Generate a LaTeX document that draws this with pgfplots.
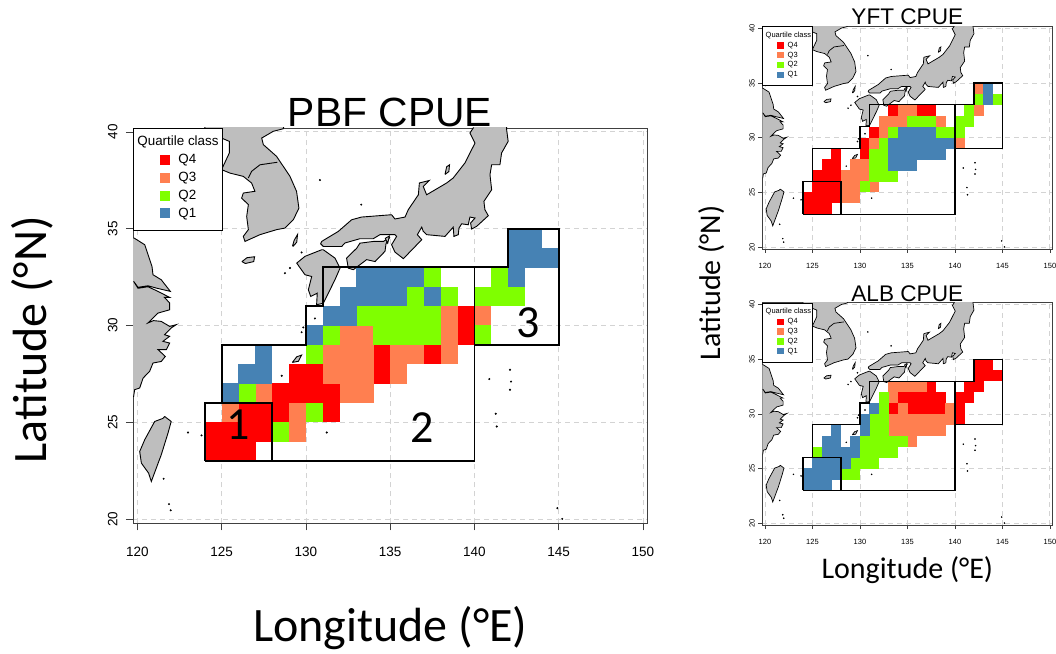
\documentclass[border=0pt]{standalone}
\usepackage{pgfplots}
\usepackage{pgfplotstable}
\usepackage{fontspec}
\pgfplotsset{compat=1.18}
\setmainfont{Liberation Sans}
\newfontfamily\calfont{Carlito}
\definecolor{qfour}{HTML}{FF0000}
\definecolor{qthree}{HTML}{FF7F50}
\definecolor{qtwo}{HTML}{7FFF00}
\definecolor{qone}{HTML}{4682B4}
\definecolor{landc}{HTML}{BEBEBE}
\definecolor{gridc}{HTML}{D3D3D3}
\pgfdeclareplotmark{cellM}{\pgfpathrectanglecorners{\pgfqpoint{-8.55pt}{-9.8pt}}{\pgfqpoint{8.55pt}{9.8pt}}\pgfusepathqfill}
\pgfdeclareplotmark{cellS}{\pgfpathrectanglecorners{\pgfqpoint{-4.85pt}{-5.55pt}}{\pgfqpoint{4.85pt}{5.55pt}}\pgfusepathqfill}

\pgfplotstableread{
x y
118.0 34.52
119.79 34.52
120.43 34.17
120.86 33.05
120.92 32.62
121.41 32.36
121.95 31.76
121.12 31.93
120.62 32.05
120.03 31.97
119.77 32.28
120.03 31.92
120.62 32.0
121.12 31.8
121.91 31.45
121.6 31.45
121.91 31.16
121.91 30.81
121.22 30.64
120.82 30.30
120.62 30.13
120.95 30.25
121.41 30.21
121.91 29.95
122.3 30.04
122.0 29.87
121.61 29.52
121.91 29.44
121.51 29.18
121.91 29.09
121.71 28.75
121.22 28.75
121.65 28.40
121.41 28.14
120.92 28.06
120.72 27.63
120.33 27.28
120.13 26.77
119.83 26.68
119.77 26.33
118.0 26.33
118.0 34.52
}\china
\pgfplotstableread{
x y
121.61 25.30
122.0 25.04
121.81 24.44
121.41 23.32
120.82 21.94
120.66 22.37
120.23 22.89
120.13 23.49
120.43 24.1
121.02 25.04
121.51 25.2
121.61 25.30
}\taiwan
\pgfplotstableread{
x y
124.0 41.0
128.9 41.0
128.65 40.16
128.06 40.03
127.37 39.68
127.47 39.34
128.26 38.73
129.05 37.70
129.44 36.93
129.58 36.06
129.25 35.46
128.75 35.03
128.26 34.95
127.27 34.69
126.38 34.34
126.28 34.60
126.58 34.95
126.48 35.63
126.58 36.24
126.18 36.58
126.28 36.84
126.97 36.93
126.77 37.36
126.28 37.70
125.49 37.87
124.99 38.05
125.45 38.91
125.45 39.51
124.99 39.68
124.0 39.9
124.0 41.0
}\korea
\pgfplotstableread{
x y
128.3 38.43
127.27 38.3
126.77 37.96
126.58 37.62
}\dmz
\pgfplotstableread{
x y
130.93 34.34
131.92 34.86
132.71 35.46
133.30 35.60
135.08 35.72
135.28 35.50
135.88 35.60
136.07 35.98
136.67 36.75
136.73 37.36
137.32 37.49
136.96 37.18
137.16 36.75
138.35 37.36
138.74 37.62
139.43 38.39
140.03 39.42
139.73 39.94
139.93 40.20
139.93 41.00
141.91 41.00
141.91 40.11
142.00 39.51
141.61 38.91
141.51 38.30
141.02 38.30
140.92 37.79
141.02 37.01
140.56 36.41
140.62 35.98
140.82 35.67
140.13 35.12
139.83 34.98
139.77 35.29
140.03 35.55
139.73 35.60
139.63 35.20
139.24 35.25
139.08 35.03
139.04 34.69
138.78 34.60
138.74 35.08
138.25 34.60
137.16 34.69
136.96 34.86
136.87 35.08
136.61 34.69
136.87 34.43
135.78 33.45
135.28 33.79
135.08 34.17
135.38 34.60
135.28 34.69
134.39 34.69
133.99 34.48
133.20 34.48
132.31 34.26
132.12 34.08
131.03 34.08
130.87 34.22
130.93 34.34
}\honshu
\pgfplotstableread{
x y
134.98 34.57
134.75 34.22
134.69 33.83
134.10 33.30
133.60 33.40
132.81 32.88
132.51 32.96
132.41 33.48
133.01 33.99
133.20 34.25
134.00 34.34
134.60 34.34
134.98 34.57
}\shikoku
\pgfplotstableread{
x y
131.03 33.91
131.72 33.48
132.02 32.96
131.72 32.36
131.03 31.15
130.63 31.07
130.67 31.67
130.28 31.50
130.14 31.84
130.34 32.53
129.94 32.62
129.45 33.22
129.94 33.57
130.93 33.91
131.03 33.91
}\kyushu
\pgfplotstableread{
x y
126.2 33.3
126.5 33.5
126.95 33.55
126.9 33.3
126.4 33.2
126.2 33.3
}\jeju
\pgfplotstableread{
x y
129.2 34.1
129.3 34.4
129.5 34.7
129.45 34.3
129.25 34.1
129.2 34.1
}\tsushima
\pgfplotstableread{
x y
138.25 37.8
138.35 38.2
138.52 38.3
138.48 37.95
138.25 37.8
}\sado
\pgfplotstableread{
x y
129.19 28.09
129.45 28.38
129.74 28.47
129.55 28.15
129.19 28.09
}\amami
\pgfplotstableread{
x y
134.7 34.5
134.95 34.62
134.85 34.25
134.7 34.5
}\awaji
\pgfplotstableread{
x y
123.0 24.47
123.8 24.32
121.55 22.08
121.87 20.77
121.97 20.45
142.11 27.71
142.17 27.1
142.11 26.68
140.88 27.23
141.26 25.44
141.32 24.78
144.92 20.56
145.21 20.01
128.56 27.4
131.23 24.47
130.53 30.36
129.84 29.9
129.74 29.65
130.83 37.51
133.28 36.24
129.74 33.77
128.75 32.7
129.05 32.97
}\islands

\pgfplotsset{
  land/.style={fill=landc,draw=black,line width=#1,forget plot},
  sqM/.style={legend image code/.code={\path[draw=none,fill=none] (-27pt,-5pt) rectangle (0pt,5pt);\fill[##1,draw=none] (0pt,-5pt) rectangle (10pt,5pt);}},
  sqS/.style={legend image code/.code={\path[draw=none,fill=none] (-14.7pt,-3.15pt) rectangle (0pt,3.15pt);\fill[##1,draw=none] (0pt,-3.15pt) rectangle (6.3pt,3.15pt);}},
  panel/.style={
    scale only axis,
    clip=true,
    clip mode=individual,
    axis line style={draw=black!75,line width=0.9pt},
    xtick={120,125,...,150},
    ytick={20,25,...,40},
    grid=major,
    grid style={gridc,dashed,line width=0.9pt,dash pattern=on 5pt off 4pt},
    tick style={draw=black!75,line width=0.7pt},
    tick align=outside,
    xtick pos=bottom,
    ytick pos=left,
    /pgf/number format/assume math mode=true,
    /pgf/number format/1000 sep={},
    yticklabel style={rotate=90,anchor=south},
    legend cell align=left,
  },
}
\newcommand{\landlayer}[1]{%
  \addplot[land=#1] table {\china};
  \addplot[land=#1] table {\taiwan};
  \addplot[land=#1] table {\korea};
  \addplot[forget plot,draw=black,line width=#1] table {\dmz};
  \addplot[land=#1] table {\honshu};
  \addplot[land=#1] table {\shikoku};
  \addplot[land=#1] table {\kyushu};
  \addplot[land=#1] table {\jeju};
  \addplot[land=#1] table {\tsushima};
  \addplot[land=#1] table {\sado};
  \addplot[land=#1] table {\amami};
  \addplot[land=#1] table {\awaji};
}
\newcommand{\regions}[1]{%
  \addplot[forget plot,draw=black,line width=#1] coordinates {(124,23) (128,23) (128,26) (124,26) (124,23)};
  \addplot[forget plot,draw=black,line width=#1] coordinates {(125,26) (125,29) (130,29) (130,31) (131,31) (131,33) (140,33) (140,23) (128,23)};
  \addplot[forget plot,draw=black,line width=#1] coordinates {(140,33) (142,33) (142,35) (145,35) (145,29) (140,29)};
}

\begin{document}
\begin{tikzpicture}[x=1pt,y=1pt]
\useasboundingbox (0,0) rectangle (1056,653);

% ---------- PBF ----------
\begin{axis}[panel,
  at={(133pt,129.7pt)},anchor=south west,
  width=514.5pt,height=395.3pt,
  xmin=119.733,xmax=150.27,ymin=19.78,ymax=40.2,
  major tick length=7pt,
  tick label style={font=\fontsize{13.5}{14}\selectfont},
  xticklabel style={yshift=-13pt},
  yticklabel style={yshift=5pt},
  title={PBF CPUE},
  title style={at={(axis description cs:0.4995,1.0405)},anchor=center,yshift=-6pt,font=\fontsize{40.8}{42}\selectfont},
  xlabel={\calfont Longitude (°E)},
  ylabel={\calfont Latitude (°N)},
  xlabel style={at={(axis description cs:0.5,-0.265)},anchor=center,font=\fontsize{48}{50}\selectfont},
  ylabel style={at={(axis description cs:-0.196,0.464)},anchor=center,font=\fontsize{48}{50}\selectfont},
  legend style={at={(axis description cs:0,1)},anchor=north west,draw=black,line width=0.8pt,fill=white,inner sep=0pt,
    nodes={inner sep=0pt},font=\fontsize{13.4}{14}\selectfont,/tikz/row sep=7pt,
    /tikz/every odd column/.append style={column sep=8pt}},
]
\landlayer{0.9pt}
\addplot[only marks,mark=*,mark size=0.8pt,black,forget plot] table {\islands};
\addlegendimage{empty legend}
\addlegendentry{\makebox[44pt][l]{\hspace*{-41pt}\rule[-3.4pt]{0pt}{21pt}Quartile class}}
\addplot[only marks,mark=cellM,color=qfour,sqM] coordinates {
(139.5,30.5) (139.5,29.5) (134.5,28.5) (137.5,28.5) (129.5,27.5) (130.5,27.5) (134.5,27.5)
(128.5,26.5) (129.5,26.5) (130.5,26.5) (131.5,26.5) (126.5,25.5) (127.5,25.5) (128.5,25.5) (131.5,25.5)
(124.5,24.5) (125.5,24.5) (126.5,24.5) (127.5,24.5) (124.5,23.5) (125.5,23.5) (126.5,23.5)};
\addlegendentry{Q4}
\addplot[only marks,mark=cellM,color=qthree,sqM] coordinates {
(138.5,30.5) (140.5,30.5) (132.5,29.5) (133.5,29.5) (138.5,29.5)
(131.5,28.5) (132.5,28.5) (133.5,28.5) (135.5,28.5) (136.5,28.5) (138.5,28.5)
(131.5,27.5) (132.5,27.5) (133.5,27.5) (135.5,27.5) (127.5,26.5) (132.5,26.5) (133.5,26.5)
(125.5,25.5) (129.5,25.5) (129.5,24.5)};
\addlegendentry{Q3}
\addplot[only marks,mark=cellM,color=qtwo,sqM] coordinates {
(137.5,32.5) (141.5,32.5) (136.5,31.5) (138.5,31.5) (140.5,31.5) (141.5,31.5) (142.5,31.5)
(133.5,30.5) (134.5,30.5) (135.5,30.5) (136.5,30.5) (137.5,30.5)
(131.5,29.5) (134.5,29.5) (135.5,29.5) (136.5,29.5) (137.5,29.5) (140.5,29.5)
(130.5,28.5) (126.5,26.5) (130.5,25.5) (128.5,24.5)};
\addlegendentry{Q2}
\addplot[only marks,mark=cellM,color=qone,sqM] coordinates {
(142.5,34.5) (143.5,34.5) (142.5,33.5) (143.5,33.5) (144.5,33.5)
(133.5,32.5) (134.5,32.5) (135.5,32.5) (136.5,32.5) (142.5,32.5)
(132.5,31.5) (133.5,31.5) (134.5,31.5) (135.5,31.5) (137.5,31.5)
(131.5,30.5) (132.5,30.5) (130.5,29.5) (127.5,28.5) (126.5,27.5) (127.5,27.5) (125.5,26.5)};
\addlegendentry{Q1}
\addlegendimage{empty legend}
\addlegendentry{\rule{0pt}{3.3pt}}
\regions{1.8pt}
\node[font=\calfont\fontsize{46}{48}\selectfont] at (axis cs:125.95,24.86) {1};
\node[font=\calfont\fontsize{46}{48}\selectfont] at (axis cs:136.9,24.7) {2};
\node[font=\calfont\fontsize{46}{48}\selectfont] at (axis cs:143.2,30.15) {3};
\end{axis}

% ---------- YFT ----------
\begin{axis}[panel,
  at={(762.3pt,404pt)},anchor=south west,
  width=290pt,height=222.7pt,
  xmin=119.72,xmax=150.25,ymin=19.82,ymax=40.19,
  major tick length=4pt,
  tick label style={font=\fontsize{7.5}{8}\selectfont},
  xticklabel style={yshift=-7pt},
  title={YFT CPUE},
  title style={at={(axis description cs:0.5,1.0417)},anchor=center,yshift=-6pt,font=\fontsize{22.6}{24}\selectfont},
  legend style={at={(axis description cs:0,1)},anchor=north west,draw=black,line width=0.8pt,fill=white,inner sep=0pt,
    nodes={inner sep=0pt},font=\fontsize{7.5}{8}\selectfont,/tikz/row sep=3.1pt,
    /tikz/every odd column/.append style={column sep=4pt}},
]
\landlayer{0.7pt}
\addplot[only marks,mark=*,mark size=0.55pt,black,forget plot] table {\islands};
\addlegendimage{empty legend}
\addlegendentry{\makebox[25pt][l]{\hspace*{-22pt}\rule[-2.4pt]{0pt}{13.1pt}Quartile class}}
\addplot[only marks,mark=cellS,color=qfour,sqS] coordinates {
(133.5,32.5) (136.5,32.5) (137.5,32.5) (131.5,30.5) (130.5,29.5) (127.5,28.5) (130.5,28.5)
(126.5,27.5) (127.5,27.5) (125.5,26.5) (126.5,26.5) (127.5,26.5) (125.5,25.5) (126.5,25.5) (127.5,25.5)
(124.5,24.5) (125.5,24.5) (126.5,24.5) (127.5,24.5) (124.5,23.5) (125.5,23.5) (126.5,23.5)};
\addlegendentry{Q4}
\addplot[only marks,mark=cellS,color=qthree,sqS] coordinates {
(142.5,34.5) (134.5,32.5) (135.5,32.5) (142.5,32.5) (132.5,31.5) (133.5,31.5) (134.5,31.5) (138.5,31.5)
(132.5,30.5) (131.5,29.5) (140.5,29.5) (129.5,27.5) (130.5,27.5) (128.5,26.5) (129.5,26.5) (130.5,26.5)
(128.5,25.5) (129.5,25.5) (131.5,25.5) (128.5,24.5) (129.5,24.5)};
\addlegendentry{Q3}
\addplot[only marks,mark=cellS,color=qtwo,sqS] coordinates {
(142.5,33.5) (144.5,33.5) (141.5,32.5) (135.5,31.5) (136.5,31.5) (137.5,31.5) (140.5,31.5) (141.5,31.5)
(133.5,30.5) (138.5,30.5) (139.5,30.5) (140.5,30.5) (132.5,29.5) (131.5,28.5) (132.5,28.5)
(131.5,27.5) (132.5,27.5) (131.5,26.5) (132.5,26.5) (133.5,26.5) (130.5,25.5)};
\addlegendentry{Q2}
\addplot[only marks,mark=cellS,color=qone,sqS] coordinates {
(143.5,34.5) (143.5,33.5) (134.5,30.5) (135.5,30.5) (136.5,30.5) (137.5,30.5)
(133.5,29.5) (134.5,29.5) (135.5,29.5) (136.5,29.5) (137.5,29.5) (138.5,29.5) (139.5,29.5)
(133.5,28.5) (134.5,28.5) (135.5,28.5) (136.5,28.5) (137.5,28.5) (138.5,28.5)
(133.5,27.5) (134.5,27.5) (135.5,27.5)};
\addlegendentry{Q1}
\addlegendimage{empty legend}
\addlegendentry{\rule{0pt}{2.7pt}}
\regions{1.1pt}
\end{axis}

% ---------- ALB ----------
\begin{axis}[panel,
  at={(762.3pt,128pt)},anchor=south west,
  width=290pt,height=222.3pt,
  xmin=119.72,xmax=150.25,ymin=19.83,ymax=40.19,
  major tick length=4pt,
  tick label style={font=\fontsize{7.5}{8}\selectfont},
  xticklabel style={yshift=-7pt},
  title={ALB CPUE},
  title style={at={(axis description cs:0.5,1.039)},anchor=center,yshift=-6pt,font=\fontsize{22.6}{24}\selectfont},
  xlabel={\calfont Longitude (°E)},
  xlabel style={at={(axis description cs:0.5,-0.202)},anchor=center,font=\fontsize{30}{32}\selectfont},
  legend style={at={(axis description cs:0,1)},anchor=north west,draw=black,line width=0.8pt,fill=white,inner sep=0pt,
    nodes={inner sep=0pt},font=\fontsize{7.5}{8}\selectfont,/tikz/row sep=3.1pt,
    /tikz/every odd column/.append style={column sep=4pt}},
]
\landlayer{0.7pt}
\addplot[only marks,mark=*,mark size=0.55pt,black,forget plot] table {\islands};
\addlegendimage{empty legend}
\addlegendentry{\makebox[25pt][l]{\hspace*{-22pt}\rule[-2.4pt]{0pt}{13.1pt}Quartile class}}
\addplot[only marks,mark=cellS,color=qfour,sqS] coordinates {
(142.5,34.5) (143.5,34.5) (142.5,33.5) (143.5,33.5) (144.5,33.5) (137.5,32.5) (141.5,32.5) (142.5,32.5)
(134.5,31.5) (135.5,31.5) (136.5,31.5) (137.5,31.5) (138.5,31.5) (140.5,31.5) (141.5,31.5)
(133.5,30.5) (135.5,30.5) (136.5,30.5) (137.5,30.5) (138.5,30.5) (140.5,30.5) (140.5,29.5)};
\addlegendentry{Q4}
\addplot[only marks,mark=cellS,color=qthree,sqS] coordinates {
(133.5,32.5) (134.5,32.5) (135.5,32.5) (136.5,32.5) (133.5,31.5) (134.5,30.5) (139.5,30.5)
(133.5,29.5) (134.5,29.5) (135.5,29.5) (136.5,29.5) (137.5,29.5) (138.5,29.5) (139.5,29.5)
(133.5,28.5) (134.5,28.5) (135.5,28.5) (136.5,28.5) (137.5,28.5) (138.5,28.5) (135.5,27.5)};
\addlegendentry{Q3}
\addplot[only marks,mark=cellS,color=qtwo,sqS] coordinates {
(132.5,31.5) (132.5,30.5) (131.5,29.5) (132.5,29.5) (131.5,28.5) (132.5,28.5)
(130.5,27.5) (131.5,27.5) (132.5,27.5) (133.5,27.5) (134.5,27.5)
(125.5,26.5) (130.5,26.5) (131.5,26.5) (132.5,26.5) (133.5,26.5)
(129.5,25.5) (130.5,25.5) (131.5,25.5) (128.5,24.5) (129.5,24.5)};
\addlegendentry{Q2}
\addplot[only marks,mark=cellS,color=qone,sqS] coordinates {
(131.5,30.5) (130.5,29.5) (127.5,28.5) (130.5,28.5) (126.5,27.5) (127.5,27.5) (129.5,27.5)
(126.5,26.5) (127.5,26.5) (128.5,26.5) (129.5,26.5) (125.5,25.5) (126.5,25.5) (127.5,25.5) (128.5,25.5)
(124.5,24.5) (125.5,24.5) (126.5,24.5) (127.5,24.5) (124.5,23.5) (125.5,23.5) (126.5,23.5)};
\addlegendentry{Q1}
\addlegendimage{empty legend}
\addlegendentry{\rule{0pt}{2.7pt}}
\regions{1.1pt}
\end{axis}

\node[rotate=90,font=\calfont\fontsize{30}{32}\selectfont] at (712,370) {Latitude (°N)};
\end{tikzpicture}
\end{document}
